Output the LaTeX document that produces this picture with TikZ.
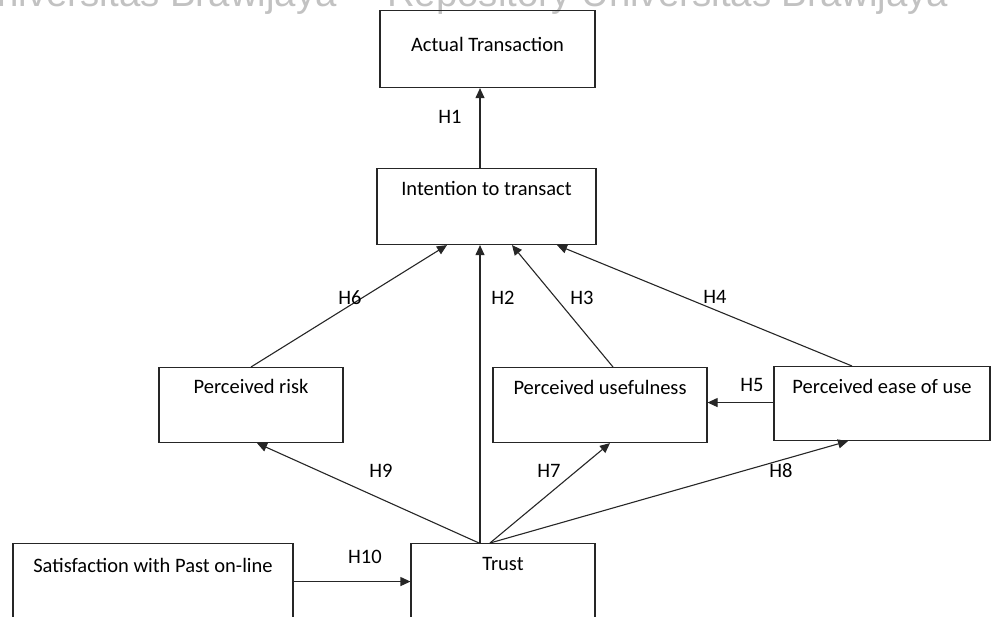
\documentclass[tikz,border=0pt]{standalone}
\usepackage{fontspec}
\setmainfont{Carlito}
\newfontfamily\markfont{Liberation Sans}
\usetikzlibrary{arrows.meta}
\begin{document}
\begin{tikzpicture}[x=1pt, y=-1pt,
    var/.style={draw=black!85, line width=1.1pt, inner sep=0pt, anchor=north, text height=27pt, text depth=48pt, font=\fontsize{20.5}{24}\selectfont},
    hyp/.style={inner sep=0pt, font=\fontsize{20.5}{24}\selectfont},
    wmark/.style={inner sep=0pt, text=black!24, font=\markfont\fontsize{38.4}{40}\selectfont},
    link/.style={draw=black!85, line width=1.1pt, -{Triangle[length=10pt, width=9pt]}}]
  \useasboundingbox (0,0) rectangle (991,617);
  \clip (0,0) rectangle (991,617);
  \node[wmark, anchor=base east] (wmleft) at (337,7) {Universitas Brawijaya};
  \node[wmark, anchor=base west] (wmright) at (387,7) {Repository Universitas Brawijaya};
  \node[var, minimum width=215pt, text height=41pt, text depth=36pt] (act) at (487.5,10) {Actual Transaction};
  \node[var, minimum width=219pt, text depth=49pt] (int) at (486.5,168) {Intention to transact};
  \node[var, minimum width=184pt, text height=26pt, text depth=49pt] (risk) at (251,367) {Perceived risk};
  \node[var, minimum width=214pt, text depth=48pt] (use) at (600,367) {Perceived usefulness};
  \node[var, minimum width=216pt, text depth=47pt] (ease) at (882,366) {Perceived ease of use};
  \node[var, minimum width=280pt, text height=29pt, text depth=47pt] (sat) at (153,543) {Satisfaction with Past on-line};
  \node[var, minimum width=184pt, text depth=49pt] (trust) at (503,543) {Trust};
  \draw[link] ([xshift=-6.5pt]int.north) -- ([xshift=-7.5pt]act.south);
  \draw[link] ([xshift=-23pt]trust.north) -- ([xshift=-6.5pt]int.south);
  \draw[link] (risk.north) -- ([xshift=-39.5pt]int.south);
  \draw[link] ([xshift=13pt]use.north) -- ([xshift=25.5pt]int.south);
  \draw[link] ([xshift=-30pt]ease.north) -- ([xshift=70.5pt]int.south);
  \draw[link] ([yshift=1pt]ease.west) -- ([yshift=1pt]ease.west -| use.east);
  \draw[link] ([xshift=-24pt]trust.north) -- ([xshift=6pt]risk.south);
  \draw[link] ([xshift=-13pt]trust.north) -- ([xshift=10pt]use.south);
  \draw[link] ([xshift=-13pt]trust.north) -- ([xshift=-34pt]ease.south);
  \draw[link] (sat.east) -- (trust.west);
  \node[hyp] (h1) at (450,117) {H1};
  \node[hyp] (h2) at (503,298) {H2};
  \node[hyp] (h3) at (582,298) {H3};
  \node[hyp] (h4) at (715,297) {H4};
  \node[hyp] (h5) at (752,385) {H5};
  \node[hyp] (h6) at (350,298) {H6};
  \node[hyp] (h7) at (549,471) {H7};
  \node[hyp] (h8) at (781,471) {H8};
  \node[hyp] (h9) at (381,471) {H9};
  \node[hyp] (h10) at (365,557) {H10};
\end{tikzpicture}
\end{document}
